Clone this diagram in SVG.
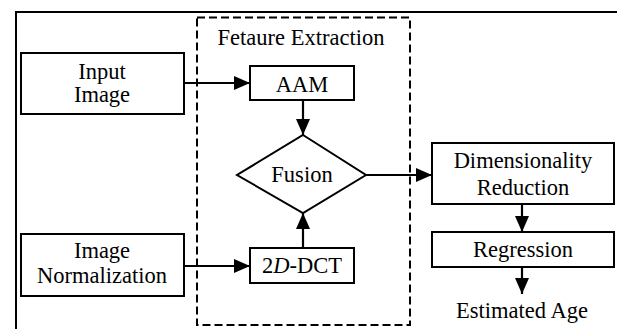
<svg xmlns="http://www.w3.org/2000/svg" width="617" height="329" viewBox="0 0 617 329">
<style>
.box{fill:#fff;stroke:#000;stroke-width:2}
text{font-family:'Liberation Serif','Times New Roman',Times,serif;font-size:22.5px;fill:#000;text-anchor:middle}
.c{stroke:#000;stroke-width:2.2;fill:none}
</style>
<defs>
<marker id="ah" markerWidth="16" markerHeight="14" refX="16" refY="7" orient="auto" markerUnits="userSpaceOnUse">
<path d="M0,0 L16,7 L0,14 Z" fill="#000"/>
</marker>
</defs>
<rect width="617" height="329" fill="#fff"/>
<g id="frame">
<path d="M16,329 L16,12 L617,12" fill="none" stroke="#000" stroke-width="2"/>
</g>
<g id="feature-extraction">
<rect x="197" y="17.5" width="213" height="307.5" fill="none" stroke="#000" stroke-width="2" stroke-dasharray="8,4"/>
<text x="301" y="45" font-family="Liberation Serif, serif">Fetaure Extraction</text>
</g>
<g id="connectors">
<line class="c" x1="184" y1="83" x2="250" y2="83" marker-end="url(#ah)"/>
<line class="c" x1="184" y1="266" x2="250" y2="266" marker-end="url(#ah)"/>
<line class="c" x1="303" y1="100" x2="303" y2="135" marker-end="url(#ah)"/>
<line class="c" x1="303" y1="248" x2="303" y2="213" marker-end="url(#ah)"/>
<line class="c" x1="366" y1="175" x2="432" y2="175" marker-end="url(#ah)"/>
<line class="c" x1="522" y1="204" x2="522" y2="232" marker-end="url(#ah)"/>
<line class="c" x1="522" y1="267" x2="522" y2="294" marker-end="url(#ah)"/>
</g>
<g id="input-image">
<rect class="box" x="21" y="53" width="163" height="61"/>
<text x="102" y="79">Input</text>
<text x="102" y="102">Image</text>
</g>
<g id="image-normalization">
<rect class="box" x="21" y="234" width="163" height="62"/>
<text x="102" y="258">Image</text>
<text x="102" y="283">Normalization</text>
</g>
<g id="aam">
<rect class="box" x="250" y="66" width="104" height="34"/>
<text x="302" y="92">AAM</text>
</g>
<g id="dct">
<rect class="box" x="250" y="248" width="104" height="35"/>
<text x="302" y="273">2<tspan font-style="italic">D</tspan>-DCT</text>
</g>
<g id="fusion">
<path class="box" d="M303,135 L366,175 L303,213 L237,175 Z"/>
<text x="302" y="182">Fusion</text>
</g>
<g id="dimensionality-reduction">
<rect class="box" x="432" y="143" width="182" height="61"/>
<text x="523" y="168">Dimensionality</text>
<text x="523" y="195">Reduction</text>
</g>
<g id="regression">
<rect class="box" x="432" y="232" width="182" height="35"/>
<text x="523" y="257">Regression</text>
</g>
<g id="estimated-age">
<text x="522" y="318">Estimated Age</text>
</g>
</svg>
